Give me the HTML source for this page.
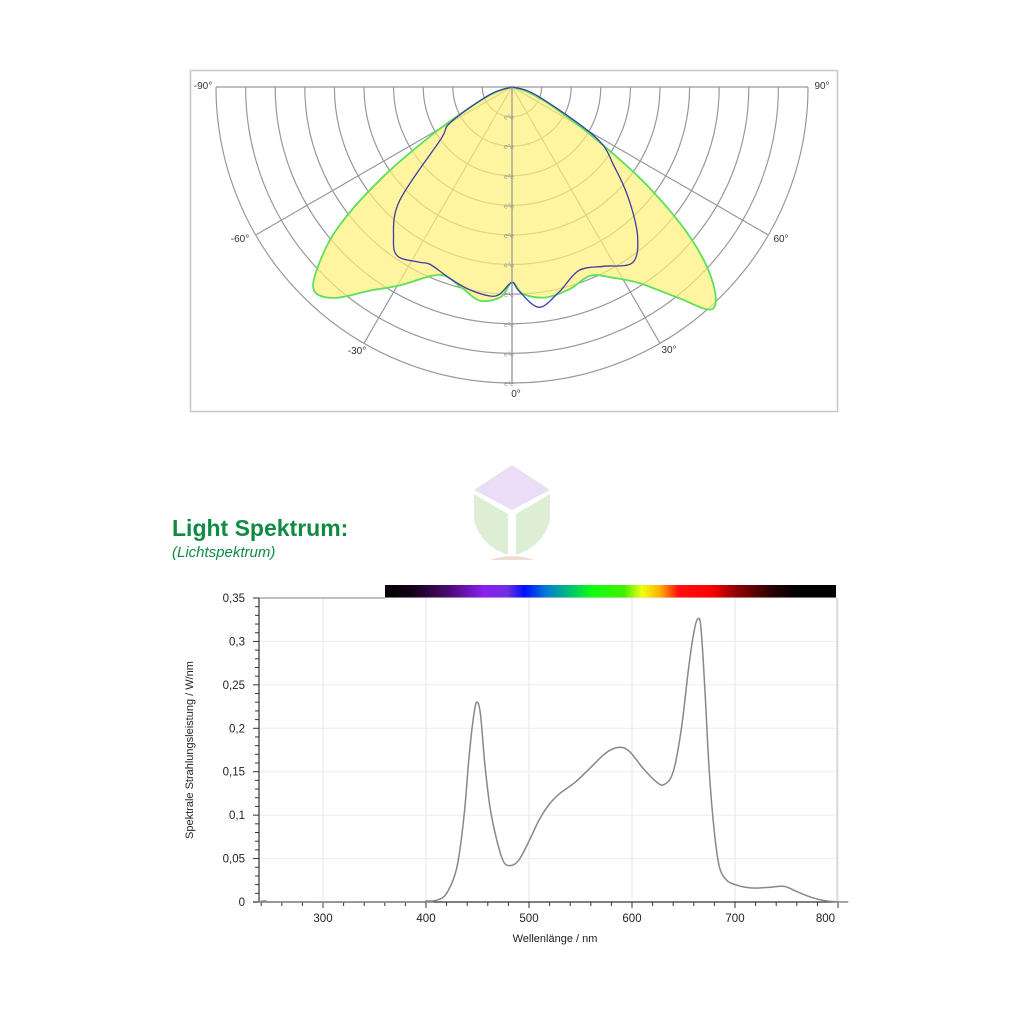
<!DOCTYPE html>
<html><head><meta charset="utf-8"><style>
html,body{margin:0;padding:0;background:#fff;width:1024px;height:1024px;overflow:hidden}
svg{display:block}
text{font-family:"Liberation Sans",sans-serif}
</style></head><body>
<svg id="root" width="1024" height="1024" viewBox="0 0 1024 1024">
<defs>
<linearGradient id="spec" x1="0" x2="1" y1="0" y2="0">
<stop offset="0" stop-color="#000"/>
<stop offset="0.06" stop-color="#140018"/>
<stop offset="0.14" stop-color="#4a0a70"/>
<stop offset="0.22" stop-color="#8a1ef0"/>
<stop offset="0.27" stop-color="#7030e0"/>
<stop offset="0.31" stop-color="#0010ff"/>
<stop offset="0.36" stop-color="#0080d0"/>
<stop offset="0.41" stop-color="#00c070"/>
<stop offset="0.46" stop-color="#10ff10"/>
<stop offset="0.53" stop-color="#40f000"/>
<stop offset="0.57" stop-color="#f0ff10"/>
<stop offset="0.61" stop-color="#ffb000"/>
<stop offset="0.65" stop-color="#ff1010"/>
<stop offset="0.72" stop-color="#ff0000"/>
<stop offset="0.78" stop-color="#900000"/>
<stop offset="0.86" stop-color="#280000"/>
<stop offset="0.92" stop-color="#000"/>
<stop offset="1" stop-color="#000"/>
</linearGradient>
</defs>
<g id="polar"></g>
<g id="logo" opacity="0.35">
<polygon points="512,465 550,490 512,510 474,490" fill="#c9a0e8"/>
<path d="M474,494 L508,514 L508,555 Q480,545 474,520 Z" fill="#9fd08a"/>
<path d="M550,494 L516,514 L516,555 Q544,545 550,520 Z" fill="#9fd08a"/>
<path d="M490,560 Q512,552 534,560 Z" fill="#d0a080"/>
</g>
<text x="172" y="536" font-size="23" font-weight="bold" fill="#118a44">Light Spektrum:</text>
<text x="172" y="557" font-size="15" font-style="italic" fill="#118a44">(Lichtspektrum)</text>
<rect x="385" y="585" width="451" height="13" fill="url(#spec)"/>
<g id="spectrum"></g>
</svg>
<script>
const polarAngles = [-90,-72,-64,-59,-55,-51,-47,-44,-40,-35,-29.5,-21,-14,-8.5,-3,0,3,9,16,22.5,28,33,38,42,46,50,54,58,64,72,90];
const greenR = [0,0.6,1.6,3.2,5.4,7.6,9.0,9.6,9.3,8.4,7.7,6.8,7.0,7.3,7.1,6.6,7.0,7.2,7.1,6.9,7.3,7.9,9.0,10.1,9.4,7.8,5.6,3.4,1.6,0.6,0];
const blueAngles = [-90,-71,-60,-53.6,-44.7,-38,-34,-28,-24.7,-18,-11.7,-6,-3.3,0,2,7,13,20,27,34.4,40,46,52,59,71,90];
const blueR = [0,0.8,2.4,3.0,5.4,6.5,6.9,6.7,6.6,6.8,7.0,7.1,7.0,6.6,6.9,7.5,7.1,6.6,6.8,7.2,6.6,5.5,4.4,3.3,0.9,0];
const ringCount = [1,2,3,4,5,6,7,8,9,10];
const spokeAngles = [-60,-30,0,30,60];
const angleLabels = ["-90°","90°","-60°","60°","-30°","30°","0°"];

const wl = [240,245,250,395,400,410,420,430,437,442,447,450,453,457,462,468,475,482,490,500,510,520,530,545,560,575,587,597,610,622,631,640,648,655,660,664,667,671,675,680,685,692,700,710,720,735,748,760,775,790,810];
const power = [0.001,0.001,0,0,0.001,0.002,0.01,0.04,0.1,0.17,0.22,0.23,0.215,0.16,0.11,0.075,0.047,0.042,0.048,0.07,0.095,0.113,0.125,0.138,0.155,0.172,0.178,0.174,0.155,0.14,0.135,0.15,0.2,0.27,0.31,0.326,0.315,0.24,0.15,0.08,0.04,0.025,0.02,0.017,0.016,0.017,0.018,0.012,0.005,0.001,0];
const xTicks = [300,400,500,600,700,800];
const yTicks = [0,0.05,0.1,0.15,0.2,0.25,0.3,0.35];
const yTickLabels = ["0","0,05","0,1","0,15","0,2","0,25","0,3","0,35"];

const NS="http://www.w3.org/2000/svg";
function mk(tag,attrs,parent){const e=document.createElementNS(NS,tag);for(const k in attrs)e.setAttribute(k,attrs[k]);parent.appendChild(e);return e;}
function smooth(pts,closed){let d="M"+pts[0][0].toFixed(1)+","+pts[0][1].toFixed(1);
 for(let i=0;i<pts.length-1;i++){const p0=pts[Math.max(i-1,0)],p1=pts[i],p2=pts[i+1],p3=pts[Math.min(i+2,pts.length-1)];
 const c1=[p1[0]+(p2[0]-p0[0])/6,p1[1]+(p2[1]-p0[1])/6],c2=[p2[0]-(p3[0]-p1[0])/6,p2[1]-(p3[1]-p1[1])/6];
 d+=" C"+c1[0].toFixed(1)+","+c1[1].toFixed(1)+" "+c2[0].toFixed(1)+","+c2[1].toFixed(1)+" "+p2[0].toFixed(1)+","+p2[1].toFixed(1);}
 return d+(closed?" Z":"");}

// Polar
const P=document.getElementById('polar');
const cx=512,cy=87,R=296,ringStep=R/10;
function pp(a,r){const t=a*Math.PI/180;return [cx+r*ringStep*Math.sin(t),cy+r*ringStep*Math.cos(t)];}
const frame=mk('rect',{x:190.5,y:70.5,width:647,height:341,fill:'#fff',stroke:'#c8c8c8','stroke-width':1.5},P);


ringCount.forEach(k=>{const r=k*ringStep;
 const c=mk('path',{d:`M${cx-r},${cy} A${r},${r} 0 0 0 ${cx+r},${cy}`,fill:'none',stroke:'#999','stroke-width':1.2},P);
 
 });
const baseLine=mk('line',{x1:cx-R,y1:cy,x2:cx+R,y2:cy,stroke:'#999','stroke-width':1.2},P);


spokeAngles.forEach(a=>{const e=pp(a,10);
 const s=mk('line',{x1:cx,y1:cy,x2:e[0],y2:e[1],stroke:'#999','stroke-width':1.2},P);
 
 });
const gpts=polarAngles.map((a,i)=>pp(a,greenR[i]));
const g=mk('path',{d:smooth(gpts,true),fill:'rgba(255,240,120,0.7)',stroke:'#5de05a','stroke-width':1.8},P);


const bpts=blueAngles.map((a,i)=>pp(a,blueR[i]));
const b=mk('path',{d:smooth(bpts,false),fill:'none',stroke:'#3c3ca8','stroke-width':1.3},P);


const vax=mk('line',{x1:cx,y1:cy,x2:cx,y2:cy+R,stroke:'#999','stroke-width':1.2},P);


ringCount.forEach(k=>{const t=mk('text',{x:cx-3,y:cy+k*ringStep+3,'font-size':7,fill:'#999','text-anchor':'middle'},P);t.textContent="e\u00b2e";
 
 });
const alPos=[[203,89],[822,89],[240,242],[781,242],[357,354],[669,353],[516,397]];
angleLabels.forEach((l,i)=>{const t=mk('text',{x:alPos[i][0],y:alPos[i][1],'font-size':10,fill:'#333','text-anchor':'middle'},P);t.textContent=l;
 
 });

// Spectrum chart
const S=document.getElementById('spectrum');
const X0=259,X1=837,Y0=902,Y1=598;
const xs=v=>323+(v-300)*1.03;
const ys=v=>Y0-(v/0.35)*(Y0-Y1);
xTicks.forEach(v=>{const l=mk('line',{x1:xs(v),y1:Y1,x2:xs(v),y2:Y0,stroke:'#e6e6e6','stroke-width':1},S);
 
 
 const last=v===800;
 const t=mk('text',{x:last?835:xs(v),y:Y0+20,'font-size':11.5,fill:'#222','text-anchor':last?'end':'middle'},S);t.textContent=v;
 
 });
yTicks.forEach((v,i)=>{const l=mk('line',{x1:X0,y1:ys(v),x2:X1,y2:ys(v),stroke:'#ececec','stroke-width':1},S);
 
 
 const t=mk('text',{x:X0-14,y:ys(v)+4,'font-size':11.5,fill:'#222','text-anchor':'end'},S);t.textContent=yTickLabels[i];
 
 });
for(let v=0;v<=0.3501;v+=0.01){const l=mk('line',{x1:X0-(Math.round(v*100)%5===0?6:4),y1:ys(v),x2:X0,y2:ys(v),stroke:'#333','stroke-width':1},S);
 
 }
for(let v=240;v<=800;v+=20){const l=mk('line',{x1:xs(v),y1:Y0,x2:xs(v),y2:Y0+(v%100===0?6:4),stroke:'#333','stroke-width':1},S);
 
 }
const tl=mk('line',{x1:X0,y1:Y1,x2:385,y2:Y1,stroke:'#aaa','stroke-width':1.5},S);


const rl=mk('line',{x1:X1,y1:Y1,x2:X1,y2:Y0,stroke:'#ccc','stroke-width':1},S);


const ya=mk('line',{x1:X0,y1:Y1,x2:X0,y2:Y0,stroke:'#333','stroke-width':1.2},S);


const xa=mk('line',{x1:X0-6,y1:Y0,x2:X1,y2:Y0,stroke:'#333','stroke-width':1.2},S);


const spts=wl.map((w,i)=>[xs(w),ys(power[i])]);
const line=mk('path',{d:smooth(spts,false),fill:'none',stroke:'#888','stroke-width':1.5},S);


const xt=mk('text',{x:555,y:942,'font-size':11,fill:'#222','text-anchor':'middle'},S);xt.textContent="Wellenlänge / nm";


const yt=mk('text',{x:0,y:0,'font-size':11,fill:'#222','text-anchor':'middle',transform:'translate(193,750) rotate(-90)'},S);yt.textContent="Spektrale Strahlungsleistung / W/nm";


</script>
</body></html>
